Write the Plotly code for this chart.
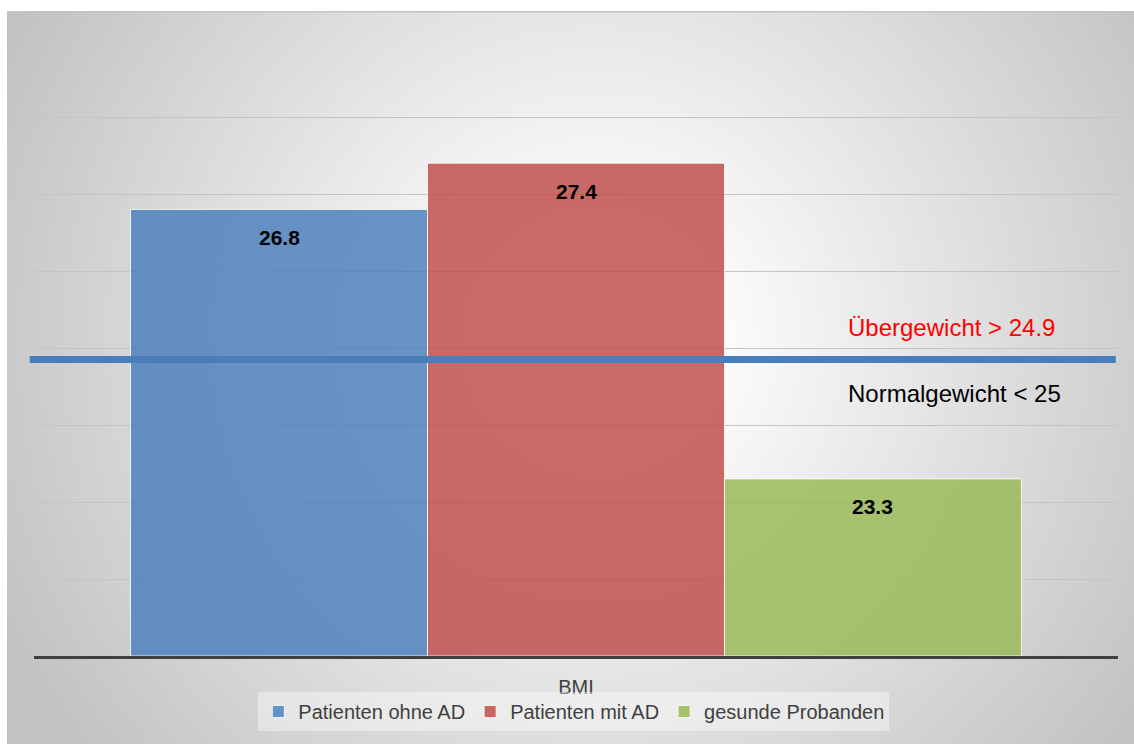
import base64
import plotly.graph_objects as go

# ---- data ----
categories = ["Patienten ohne AD", "Patienten mit AD", "gesunde Probanden"]
bmi_values = [26.8, 27.4, 23.3]
bar_colors = ["rgba(79,129,189,0.85)", "rgba(192,80,77,0.85)", "rgba(155,187,89,0.85)"]
axis_label = "BMI"
axis_floor = 21
threshold = 24.85
label_over = "Übergewicht > 24.9"
label_normal = "Normalgewicht < 25"
grid_values = [22, 23, 24, 25, 26, 27, 28]

FONT = "Liberation Sans, Arial, sans-serif"

fig = go.Figure()
for i, (name, val, col) in enumerate(zip(categories, bmi_values, bar_colors)):
    fig.add_trace(go.Bar(
        x=[i], y=[val - axis_floor], width=[1.0], name=name,
        marker=dict(color=col, line=dict(color="rgba(255,255,255,0.8)", width=1)),
        hoverinfo="skip",
    ))
    fig.add_annotation(x=i, y=val - axis_floor, text=f"<b>{val}</b>", showarrow=False,
                       yshift=-28, font=dict(family=FONT, size=21, color="#000000"))

fig.add_annotation(x=1.91, y=threshold - axis_floor, xanchor="left", text=label_over,
                   showarrow=False, yshift=32, font=dict(family=FONT, size=24, color="#ff0000"))
fig.add_annotation(x=1.91, y=threshold - axis_floor, xanchor="left", text=label_normal,
                   showarrow=False, yshift=-34, font=dict(family=FONT, size=24, color="#000000"))

fig.add_shape(type="line", xref="paper", yref="y", x0=-0.004, x1=0.998,
              y0=threshold - axis_floor, y1=threshold - axis_floor,
              line=dict(color="#4A7EBB", width=7), layer="above")

# background radial gradient
svg = ('<svg xmlns="http://www.w3.org/2000/svg" width="1127" height="733" viewBox="0 0 1127 733">'
       '<defs><radialGradient id="g" gradientUnits="userSpaceOnUse" cx="590" cy="330" r="660">'
       '<stop offset="0" stop-color="#ffffff"/><stop offset="0.18" stop-color="#fcfcfc"/>'
       '<stop offset="1" stop-color="#c2c2c2"/></radialGradient></defs>'
       '<rect x="0" y="0" width="1127" height="733" fill="url(#g)"/>'
       '<line x1="0" y1="0.5" x2="1127" y2="0.5" stroke="#c4c4c4" stroke-width="2"/></svg>')
src = "data:image/svg+xml;base64," + base64.b64encode(svg.encode()).decode()
# plot area: x 34..1118, y 40..656 (616 px)
fig.add_layout_image(source=src, xref="paper", yref="paper",
                     x=(7 - 34) / 1084, y=(656 - 11) / 616,
                     sizex=1127 / 1084, sizey=733 / 616, xanchor="left", yanchor="top",
                     sizing="stretch", layer="below")

fig.update_layout(
    width=1134, height=744,
    margin=dict(l=34, r=16, t=40, b=88),
    paper_bgcolor="white", plot_bgcolor="rgba(0,0,0,0)",
    barmode="overlay", showlegend=True,
    legend=dict(orientation="h", x=0.498, xanchor="center", y=(656 - 692) / 616, yanchor="top",
                bgcolor="rgba(255,255,255,0.4)", font=dict(family=FONT, size=20, color="#404040"),
                itemclick=False, tracegroupgap=0),
    xaxis=dict(range=[-0.825, 2.825], tickvals=[1], ticktext=[axis_label], showgrid=False,
               zeroline=False, showline=True, linecolor="#404040", linewidth=3,
               ticks="outside", ticklen=11, tickcolor="rgba(0,0,0,0)",
               tickfont=dict(family=FONT, size=20, color="#404040"), fixedrange=True),
    yaxis=dict(range=[0, 8], tickvals=[v - axis_floor for v in grid_values], showticklabels=False,
               showgrid=True, gridcolor="#c4c4c4", gridwidth=1, zeroline=False, fixedrange=True),
)

fig.write_html("out.html")
